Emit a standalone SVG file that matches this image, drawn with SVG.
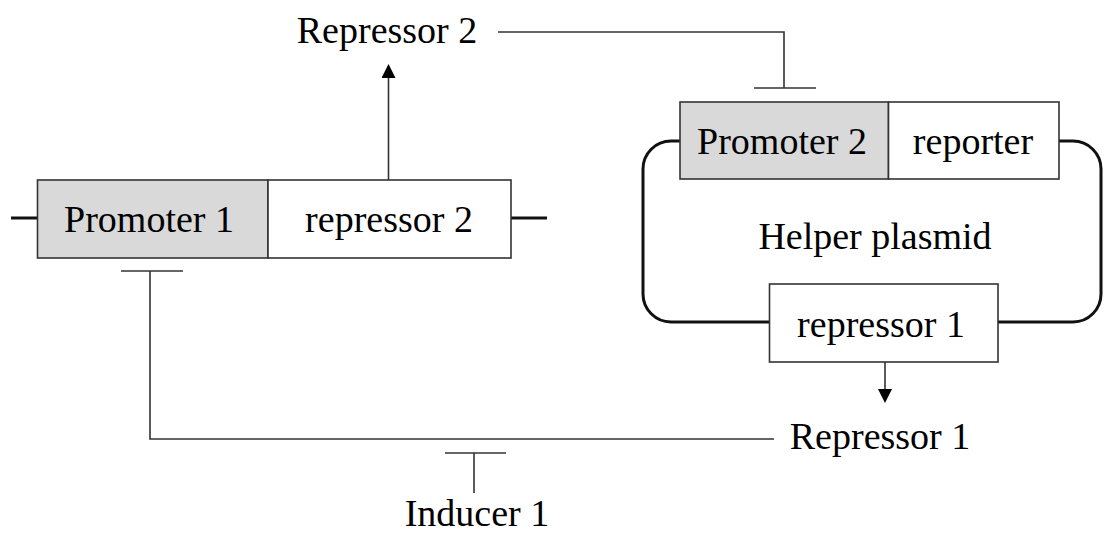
<svg xmlns="http://www.w3.org/2000/svg" width="1105" height="534" viewBox="0 0 1105 534">
<style>
.lbl{font-family:"Liberation Serif","Times New Roman",serif;font-size:38px;fill:#000;text-anchor:middle}
.box{stroke:#333;stroke-width:1.6}
.prom{fill:#d9d9d9}
.gene{fill:#fff}
.con{fill:none;stroke:#333;stroke-width:1.6}
.bb{fill:none;stroke:#111;stroke-width:3}
</style>
<defs>
<marker id="arr" markerWidth="14" markerHeight="14" refX="12" refY="7" orient="auto" markerUnits="userSpaceOnUse">
<path d="M0,0 L14,7 L0,14 Z" fill="#000"/>
</marker>
</defs>
<rect width="1105" height="534" fill="#fff"/>
<g id="connectors">
<line class="con" x1="388.5" y1="180" x2="388.5" y2="66" marker-end="url(#arr)"/>
<polyline class="con" points="498,32 784,32 784,88"/>
<line class="con" x1="754" y1="88" x2="816" y2="88"/>
<polyline class="con" points="774,439 150,439 150,271"/>
<line class="con" x1="121" y1="271" x2="183" y2="271"/>
<line class="con" x1="474" y1="493" x2="474" y2="453"/>
<line class="con" x1="445" y1="453" x2="506" y2="453"/>
<line class="con" x1="885" y1="362" x2="885" y2="401" marker-end="url(#arr)"/>
</g>
<g id="construct1">
<line class="bb" x1="11" y1="218" x2="38" y2="218"/>
<line class="bb" x1="511" y1="218" x2="547" y2="218"/>
<rect class="box prom" x="37.5" y="180" width="230.5" height="78"/>
<rect class="box gene" x="268" y="180" width="243" height="78"/>
</g>
<g id="promoter1"><text class="lbl" x="149" y="232">Promoter 1</text></g>
<g id="repressor2gene"><text class="lbl" x="389" y="232">repressor 2</text></g>
<g id="helper-plasmid">
<path class="bb" d="M680,141 H671 A28,28 0 0 0 643,169 V294 A28,28 0 0 0 671,322 H770 M998,322 H1073 A28,28 0 0 0 1101,294 V169 A28,28 0 0 0 1073,141 H1059"/>
<text class="lbl" x="875" y="249">Helper plasmid</text>
</g>
<g id="promoter2">
<rect class="box prom" x="680" y="102" width="208.5" height="77"/>
<text class="lbl" x="782" y="154">Promoter 2</text>
</g>
<g id="reporter">
<rect class="box gene" x="888.5" y="102" width="170.5" height="77"/>
<text class="lbl" x="973" y="154">reporter</text>
</g>
<g id="repressor1gene">
<rect class="box gene" x="769.5" y="284" width="228.5" height="78"/>
<text class="lbl" x="881" y="337">repressor 1</text>
</g>
<g id="Repressor2"><text class="lbl" x="387" y="43">Repressor 2</text></g>
<g id="Repressor1"><text class="lbl" x="880" y="449">Repressor 1</text></g>
<g id="Inducer1"><text class="lbl" x="477" y="526">Inducer 1</text></g>
</svg>
